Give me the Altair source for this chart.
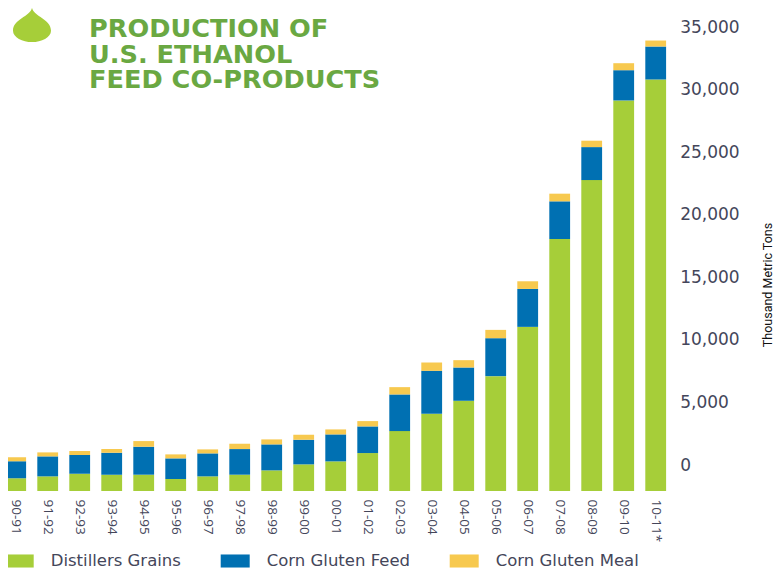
import altair as alt
import pandas as pd

seasons = ["90-91","91-92","92-93","93-94","94-95","95-96","96-97","97-98","98-99","99-00","00-01",
           "01-02","02-03","03-04","04-05","05-06","06-07","07-08","08-09","09-10","10-11*"]
# Segment heights in thousand metric tons
grains = [1011,1170,1383,1303,1303,958,1170,1303,1649,2128,2367,3032,4788,6171,7209,9177,13114,20136,24845,31205,32881]
gluten_feed = [1357,1596,1490,1756,2234,1649,1835,2048,2075,1968,2155,2128,2926,3431,2660,3032,3032,3009,2634,2418,2634]
gluten_meal = [319,319,319,293,452,319,319,426,399,399,399,426,585,665,585,665,612,612,511,559,479]
bar_base = -2075  # the printed axis puts the bars' foot below its zero
series_names = ["Distillers Grains", "Corn Gluten Feed", "Corn Gluten Meal"]
series_colors = ["#a6ce39", "#0070b2", "#f7c94f"]
title_lines = ["PRODUCTION OF", "U.S. ETHANOL", "FEED CO-PRODUCTS"]

rows = []
for i, s in enumerate(seasons):
    lo = bar_base
    for name, vals in zip(series_names, [grains, gluten_feed, gluten_meal]):
        rows.append({"season": s, "series": name, "start": lo, "end": lo + vals[i]})
        lo += vals[i]
df = pd.DataFrame(rows)

TEXT = "#44465a"
bars = alt.Chart(df).mark_bar().encode(
    x=alt.X("season:N", sort=seasons, title=None,
            scale=alt.Scale(paddingInner=0.35, paddingOuter=0.175),
            axis=alt.Axis(labelAngle=90, labelAlign="left", labelBaseline="middle", labelPadding=8,
                          labelFont="Open Sans", labelFontSize=13.5, labelColor=TEXT,
                          domain=False, ticks=False)),
    y=alt.Y("start:Q", title="Thousand Metric Tons",
            scale=alt.Scale(domain=[bar_base, 35000], nice=False, zero=False),
            axis=alt.Axis(orient="right", values=[0,5000,10000,15000,20000,25000,30000,35000], format=",.0f",
                          labelAlign="left", labelPadding=8, labelFont="DejaVu Sans", labelFontSize=17,
                          labelColor=TEXT, domain=False, ticks=False, grid=False,
                          titleFont="Roboto", titleFontSize=12.5, titleFontWeight="normal",
                          titleColor="#111111", titleAngle=-90, titleX=103, titleY=257.5)),
    y2="end:Q",
    color=alt.Color("series:N", title=None,
                    scale=alt.Scale(domain=series_names, range=series_colors),
                    legend=alt.Legend(orient="none", legendX=5, legendY=519.5, direction="horizontal",
                                      columns=3, gridAlign="none", columnPadding=39,
                                      symbolType="M-1,-0.45H1V0.45H-1Z", symbolSize=841, symbolStrokeWidth=0,
                                      labelFont="DejaVu Sans", labelFontSize=16.5, labelColor=TEXT,
                                      labelOffset=17)),
)
drop = alt.Chart(pd.DataFrame({"k": [0]})).mark_point(
    filled=True, opacity=1, color="#a6ce39", size=1444,
    shape="M0,-0.9C0.1,-0.45,1,-0.3,1,0.3C1,0.65,0.5,0.9,0,0.9C-0.5,0.9,-1,0.65,-1,0.3C-1,-0.3,-0.1,-0.45,0,-0.9Z",
).encode(x=alt.value(32.3), y=alt.value(-2))

chart = alt.layer(bars, drop).properties(
    width=672, height=464,
    padding={"left": -8.3, "top": 19, "right": 103.3, "bottom": 78},
    autosize=alt.AutoSizeParams(type="none"),
    title=alt.TitleParams(text=title_lines, anchor="start", frame="group", dx=89.3, dy=90,
                          font="DejaVu Sans", fontSize=25.6, fontWeight="bold", color="#6aa842", lineHeight=25.5),
).configure_view(stroke=None)
chart.save("out.html", embed_options={"renderer": "svg", "actions": False})
